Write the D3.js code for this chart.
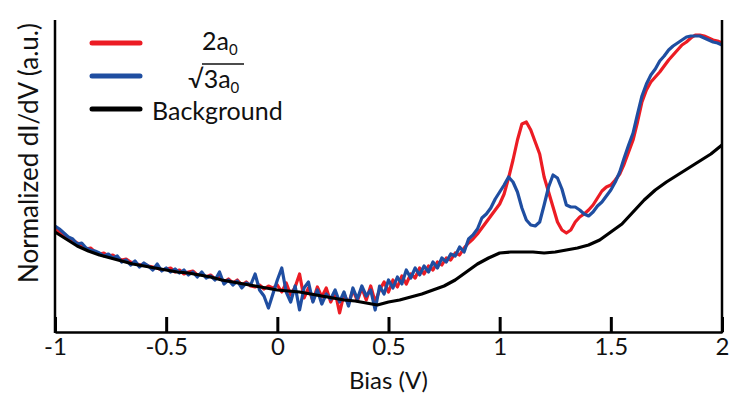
<!DOCTYPE html>
<html>
<head>
<meta charset="utf-8">
<script src="https://cdn.jsdelivr.net/npm/d3@7"></script>
<style>
  body { margin: 0; background: #fff; }
  text { font-family: Lato, "Open Sans", sans-serif; fill: #111; }
</style>
</head>
<body>
<div id="chart"></div>
<script>
// bias grid for the two spectra: -1 V to 2 V in 0.02 V steps
var biasStart = -1, biasStep = 0.02;
// 2a0 spectrum (a.u.), one row = 0.2 V
var red2a0 = [
  1.03,1.00,0.97,0.94,0.92,0.89,0.87,0.83,0.84,0.80,
  0.78,0.79,0.76,0.77,0.74,0.72,0.73,0.70,0.69,0.67,
  0.68,0.66,0.65,0.64,0.62,0.63,0.64,0.60,0.62,0.58,
  0.60,0.61,0.57,0.58,0.55,0.57,0.53,0.55,0.50,0.53,
  0.49,0.52,0.47,0.50,0.46,0.45,0.47,0.43,0.46,0.44,
  0.47,0.40,0.49,0.37,0.45,0.58,0.34,0.44,0.31,0.45,
  0.35,0.44,0.30,0.40,0.19,0.38,0.28,0.42,0.31,0.44,
  0.32,0.46,0.30,0.42,0.50,0.40,0.52,0.45,0.56,0.48,
  0.58,0.54,0.64,0.58,0.66,0.62,0.70,0.67,0.74,0.72,
  0.79,0.77,0.84,0.89,0.93,0.98,1.04,1.10,1.16,1.22,
  1.28,1.38,1.54,1.72,1.92,2.08,2.10,2.02,1.90,1.78,
  1.55,1.40,1.25,1.10,1.02,0.99,1.02,1.10,1.15,1.18,
  1.22,1.27,1.34,1.41,1.45,1.47,1.52,1.58,1.68,1.80,
  1.92,2.10,2.30,2.42,2.50,2.55,2.60,2.66,2.72,2.77,
  2.82,2.87,2.90,2.94,2.97,2.97,2.96,2.94,2.92,2.91,
  2.89
];
// sqrt3 a0 spectrum (a.u.)
var blueSqrt3 = [
  1.06,1.03,0.99,0.95,0.93,0.88,0.89,0.84,0.82,0.81,
  0.79,0.76,0.78,0.74,0.76,0.70,0.72,0.67,0.71,0.65,
  0.69,0.66,0.62,0.68,0.61,0.64,0.60,0.63,0.59,0.62,
  0.57,0.60,0.55,0.60,0.54,0.56,0.52,0.60,0.48,0.52,
  0.47,0.51,0.44,0.49,0.47,0.58,0.42,0.36,0.24,0.38,
  0.52,0.64,0.40,0.30,0.46,0.22,0.44,0.50,0.30,0.42,
  0.28,0.38,0.33,0.42,0.30,0.40,0.26,0.44,0.33,0.46,
  0.36,0.42,0.22,0.46,0.38,0.52,0.44,0.55,0.48,0.62,
  0.54,0.64,0.57,0.66,0.60,0.70,0.64,0.74,0.70,0.78,
  0.76,0.85,0.80,0.93,0.97,1.03,1.14,1.18,1.24,1.33,
  1.40,1.47,1.55,1.50,1.40,1.24,1.12,1.07,1.06,1.10,
  1.27,1.45,1.57,1.54,1.43,1.27,1.25,1.25,1.22,1.18,
  1.16,1.20,1.26,1.30,1.36,1.42,1.50,1.60,1.74,1.87,
  1.99,2.18,2.36,2.48,2.57,2.63,2.71,2.76,2.82,2.86,
  2.89,2.92,2.95,2.96,2.96,2.96,2.94,2.92,2.90,2.89,
  2.87
];
// background, 0.05 V steps
var bgStep = 0.05;
var background = [
  1.00,0.93,0.86,0.81,0.77,0.74,0.71,0.68,0.66,0.64,
  0.62,0.60,0.59,0.57,0.55,0.52,0.50,0.48,0.46,0.44,
  0.42,0.41,0.40,0.38,0.36,0.34,0.32,0.31,0.29,0.27,
  0.30,0.32,0.35,0.38,0.42,0.46,0.52,0.60,0.68,0.74,
  0.79,0.80,0.80,0.80,0.79,0.80,0.82,0.84,0.87,0.92,
  1.00,1.08,1.20,1.32,1.42,1.50,1.57,1.64,1.71,1.78,
  1.87
];
var xTicks = [-1, -0.5, 0, 0.5, 1, 1.5, 2];
var legendNames = ['2a0', 'sqrt3a0', 'Background'];
var colors = ['#ec1c24', '#1f4ea1', '#000000'];

var width = 729, height = 398;
var svg = d3.select('#chart').append('svg')
    .attr('width', width)
    .attr('height', height);

var x = d3.scaleLinear().domain([-1, 2]).range([55, 722]);
var y = d3.scaleLinear().domain([0, 3.12]).range([332, 20]);

function toPoints(arr, start, step) {
  return arr.map(function(v, i) { return [start + i * step, v]; });
}

var line = d3.line()
    .x(function(d) { return x(d[0]); })
    .y(function(d) { return y(d[1]); });

var series = [
  toPoints(red2a0, biasStart, biasStep),
  toPoints(blueSqrt3, biasStart, biasStep),
  toPoints(background, biasStart, bgStep)
];

svg.selectAll('path.curve')
    .data(series)
    .enter()
    .append('path')
    .attr('class', 'curve')
    .attr('d', line)
    .attr('fill', 'none')
    .attr('stroke', function(d, i) { return colors[i]; })
    .attr('stroke-width', 3.2)
    .attr('stroke-linejoin', 'round');

// frame: bottom axis with inward ticks, plain side lines
var xAxis = d3.axisBottom(x)
    .tickValues(xTicks)
    .tickFormat(function(d) { return String(d); })
    .tickSizeInner(-15)
    .tickSizeOuter(0)
    .tickPadding(6);

var gx = svg.append('g')
    .attr('transform', 'translate(0,' + y(0) + ')')
    .call(xAxis);
gx.select('.domain').attr('stroke', '#000').attr('stroke-width', 2.5);
gx.selectAll('.tick line').attr('stroke', '#000').attr('stroke-width', 3);
gx.selectAll('.tick text')
    .attr('fill', '#111')
    .style('font-family', 'Lato, sans-serif')
    .style('font-size', '24px');

svg.selectAll('line.side')
    .data([-1, 2])
    .enter()
    .append('line')
    .attr('class', 'side')
    .attr('x1', function(d) { return x(d); })
    .attr('x2', function(d) { return x(d); })
    .attr('y1', y(0) + 1)
    .attr('y2', y(3.12))
    .attr('stroke', '#000')
    .attr('stroke-width', 2.5);

svg.append('text')
    .attr('x', x(0.5))
    .attr('y', 389)
    .attr('text-anchor', 'middle')
    .style('font-size', '24px')
    .text('Bias (V)');

svg.append('text')
    .attr('transform', 'translate(38,153) rotate(-90)')
    .attr('text-anchor', 'middle')
    .style('font-size', '26px')
    .text('Normalized dI/dV (a.u.)');

// legend
var legendY = [43, 76, 109];
svg.selectAll('line.key')
    .data(legendNames)
    .enter()
    .append('line')
    .attr('class', 'key')
    .attr('x1', 92).attr('x2', 140)
    .attr('y1', function(d, i) { return legendY[i]; })
    .attr('y2', function(d, i) { return legendY[i]; })
    .attr('stroke', function(d, i) { return colors[i]; })
    .attr('stroke-width', 5)
    .attr('stroke-linecap', 'round');

var t1 = svg.append('text')
    .attr('x', 202).attr('y', 50)
    .style('font-size', '25px');
t1.append('tspan').text('2a');
t1.append('tspan').attr('dy', 5).style('font-size', '15px').text('0');

var t2 = svg.append('text')
    .attr('x', 188).attr('y', 88)
    .style('font-size', '25px');
t2.append('tspan').text('\u221A3a');
t2.append('tspan').attr('dy', 5).style('font-size', '15px').text('0');
svg.append('line')
    .attr('x1', 202).attr('x2', 244)
    .attr('y1', 64).attr('y2', 64)
    .attr('stroke', '#111')
    .attr('stroke-width', 1.5);

svg.append('text')
    .attr('x', 152).attr('y', 120)
    .style('font-size', '25px')
    .text('Background');
</script>
</body>
</html>
